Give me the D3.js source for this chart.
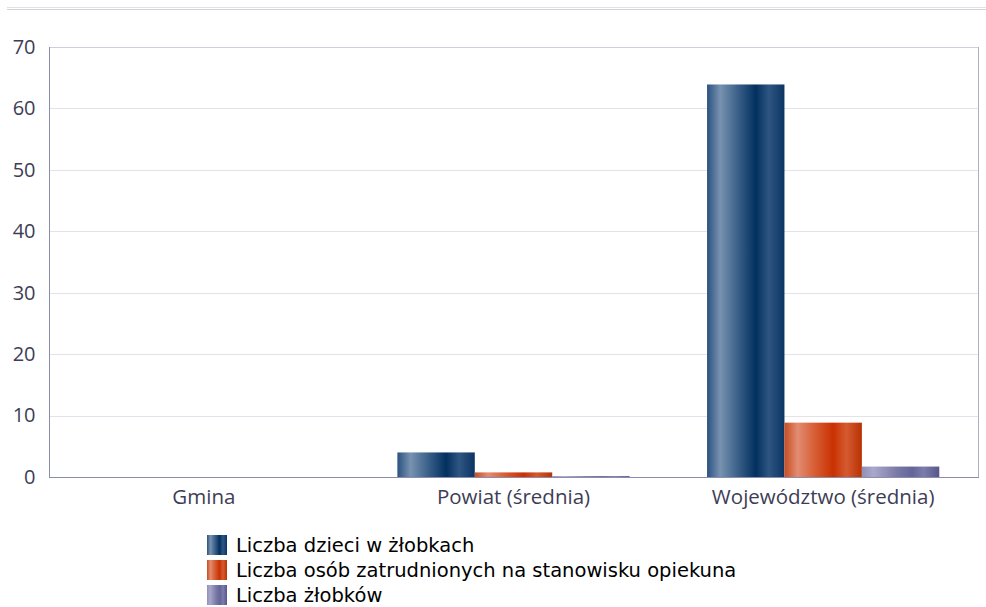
<!DOCTYPE html>
<html><head><meta charset="utf-8">
<script src="https://cdn.jsdelivr.net/npm/d3@7"></script>
<style>body{margin:0;background:#fff}svg{display:block}</style>
</head><body>
<svg id="c" width="986" height="607"></svg>
<script>
const categories = ["Gmina", "Powiat (średnia)", "Województwo (średnia)"];
const seriesNames = ["Liczba dzieci w żłobkach", "Liczba osób zatrudnionych na stanowisku opiekuna", "Liczba żłobków"];
const dzieci = [0, 4.0, 63.9];
const opiekunowie = [0, 0.75, 8.85];
const zlobki = [0, 0.15, 1.7];
const yTicks = [0, 10, 20, 30, 40, 50, 60, 70];

const series = [dzieci, opiekunowie, zlobki];
const gradStops = [
  [["0","#2b5280"],["0.17","#7892b0"],["0.4","#3a6089"],["0.63","#02305f"],["0.8","#2f5682"],["1","#0c3463"]],
  [["0","#c94d22"],["0.17","#e28c72"],["0.4","#d65c32"],["0.63","#c93102"],["0.8","#d55a30"],["1","#b83204"]],
  [["0","#9090b8"],["0.15","#a8a8cc"],["0.45","#7a7aa6"],["0.65","#64649a"],["0.8","#7c7cac"],["1","#56568a"]]
];

const svg = d3.select("#c");
const m = {l: 49, r: 978, t: 47, b: 477};

const defs = svg.append("defs");
gradStops.forEach((st, i) => {
  const g = defs.append("linearGradient").attr("id", "g" + i).attr("x1", "0").attr("x2", "1").attr("y1", "0").attr("y2", "0");
  st.forEach(s => g.append("stop").attr("offset", s[0]).attr("stop-color", s[1]));
});

// top decorative lines
svg.append("line").attr("x1", 7).attr("x2", 986).attr("y1", 7.5).attr("y2", 7.5).attr("stroke", "#e2e2e6");
svg.append("line").attr("x1", 7).attr("x2", 986).attr("y1", 9.5).attr("y2", 9.5).attr("stroke", "#d2d2d8");

const x = d3.scaleBand().domain(categories).range([m.l, m.r]).padding(0);
const xs = d3.scaleBand().domain(d3.range(series.length)).range([0, x.bandwidth()]).paddingInner(0).paddingOuter(0.5);
const y = d3.scaleLinear().domain([0, 70]).range([m.b, m.t]);

// gridlines
svg.append("g").selectAll("line").data(yTicks.filter(t => t > 0)).join("line")
  .attr("x1", m.l).attr("x2", m.r)
  .attr("y1", d => Math.round(y(d)) + 0.5).attr("y2", d => Math.round(y(d)) + 0.5)
  .attr("stroke", d => d === 70 ? "#cfcfdc" : "#e2e2ea");
// right border
svg.append("line").attr("x1", m.r + 0.5).attr("x2", m.r + 0.5).attr("y1", Math.round(y(70))).attr("y2", m.b)
  .attr("stroke", "#aeaec6");

// bars
series.forEach((vals, si) => {
  svg.append("g").selectAll("rect").data(vals).join("rect")
    .attr("x", (d, i) => x(categories[i]) + xs(si))
    .attr("width", xs.bandwidth())
    .attr("y", d => y(d))
    .attr("height", d => y(0) - y(d))
    .attr("fill", "url(#g" + si + ")");
});

// axes
const yAxis = svg.append("g").attr("transform", `translate(${m.l + 0.5},0)`)
  .call(d3.axisLeft(y).tickValues(yTicks).tickSize(0).tickPadding(14));
yAxis.select(".domain").attr("stroke", "#8c8cab").attr("d", `M0,${Math.round(y(70))}V${m.b}`);
yAxis.selectAll("text").attr("font-family", "Open Sans").attr("font-size", 20).attr("fill", "#3d3d55");

const xAxis = svg.append("g").attr("transform", `translate(0,${m.b + 0.5})`)
  .call(d3.axisBottom(x).tickSize(0).tickPadding(12));
xAxis.select(".domain").attr("stroke", "#8c8cab").attr("d", `M${m.l},0H${m.r + 1}`);
xAxis.selectAll("text").attr("font-family", "Open Sans").attr("font-size", 20.5).attr("fill", "#3d3d55");

// legend
const lg = svg.append("g");
seriesNames.forEach((n, i) => {
  const yy = 535 + i * 25;
  lg.append("rect").attr("x", 207).attr("y", yy).attr("width", 20).attr("height", 20).attr("fill", "url(#g" + i + ")");
  lg.append("text").attr("x", 236).attr("y", yy + 10).attr("dy", "0.35em")
    .attr("font-family", "DejaVu Sans").attr("font-size", 19.5).attr("fill", "#000").text(n);
});
</script>
</body></html>
